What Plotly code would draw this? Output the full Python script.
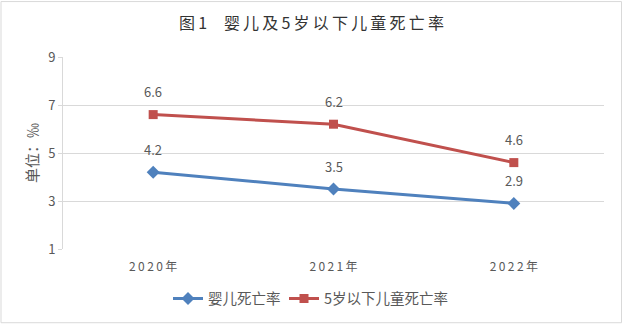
import plotly.graph_objects as go

years = ["2020年", "2021年", "2022年"]
infant = [4.2, 3.5, 2.9]
under5 = [6.6, 6.2, 4.6]
series_names = ["婴儿死亡率", "5岁以下儿童死亡率"]
y_ticks = [1, 3, 5, 7, 9]
title_text = "图1  婴儿及5岁以下儿童死亡率"

BLUE = "#4F81BD"
RED = "#C0504D"
FONT = "Noto Sans CJK SC, Microsoft YaHei, sans-serif"
THIN = "\u2009"


def spaced(s):
    return THIN.join(ch if ch != " " else "\u00a0" for ch in s)


W, H = 623, 327
L, R, T, B = 63, 19, 57, 76
pw = W - L - R
ph = H - T - B

fig = go.Figure()
fig.add_trace(go.Scatter(x=years, y=infant, name=series_names[0], mode="lines+markers",
                         line=dict(color=BLUE, width=3), legend="legend",
                         marker=dict(symbol="diamond", size=10, color=BLUE)))
fig.add_trace(go.Scatter(x=years, y=under5, name=series_names[1], mode="lines+markers",
                         line=dict(color=RED, width=3), legend="legend2",
                         marker=dict(symbol="square", size=9, color=RED)))

for vals in (infant, under5):
    for x, v in zip(years, vals):
        fig.add_annotation(x=x, y=v, text=f"{v:.1f}", showarrow=False, yshift=23,
                           font=dict(size=13, color="#595959", family=FONT))

fig.add_shape(type="rect", xref="paper", yref="paper",
              x0=-(L - 1) / pw, x1=1 + (R - 1.5) / pw,
              y0=-(B - 1.5) / ph, y1=1 + (T - 1) / ph,
              line=dict(color="#D9D9D9", width=1), layer="below")

leg_y = -(301 - (H - B)) / ph
leg_common = dict(orientation="h", xanchor="left", y=leg_y, yanchor="middle",
                  font=dict(size=14.5, color="#595959", family=FONT), itemwidth=30,
                  bgcolor="rgba(0,0,0,0)")

fig.update_layout(
    width=W, height=H,
    margin=dict(l=L, r=R, t=T, b=B),
    paper_bgcolor="white", plot_bgcolor="white",
    font=dict(family=FONT, color="#595959"),
    title=dict(text=spaced(title_text), x=0.5, xanchor="center", xref="container", y=1 - 23 / H,
               yanchor="middle", font=dict(size=16, color="#333333", family=FONT)),
    showlegend=True,
    legend=dict(x=(168 - L) / pw, **leg_common),
    legend2=dict(x=(284 - L) / pw, **leg_common),
    xaxis=dict(type="category", tickvals=years, ticktext=[spaced(y) for y in years], showgrid=False,
               showline=False, ticks="", ticklabelstandoff=9,
               tickfont=dict(size=12, color="#595959"),
               range=[-0.5, 2.5]),
    yaxis=dict(range=[1, 9], tickvals=y_ticks, showgrid=True, gridcolor="#D9D9D9", gridwidth=1,
               showline=True, linecolor="#D9D9D9", linewidth=1, ticks="outside", ticklen=4,
               tickcolor="#D9D9D9", tickfont=dict(size=13, color="#595959"),
               zeroline=False,
               title=dict(text="单位：‰", font=dict(size=15, color="#595959"), standoff=5)),
)

fig.write_html("out.html")
